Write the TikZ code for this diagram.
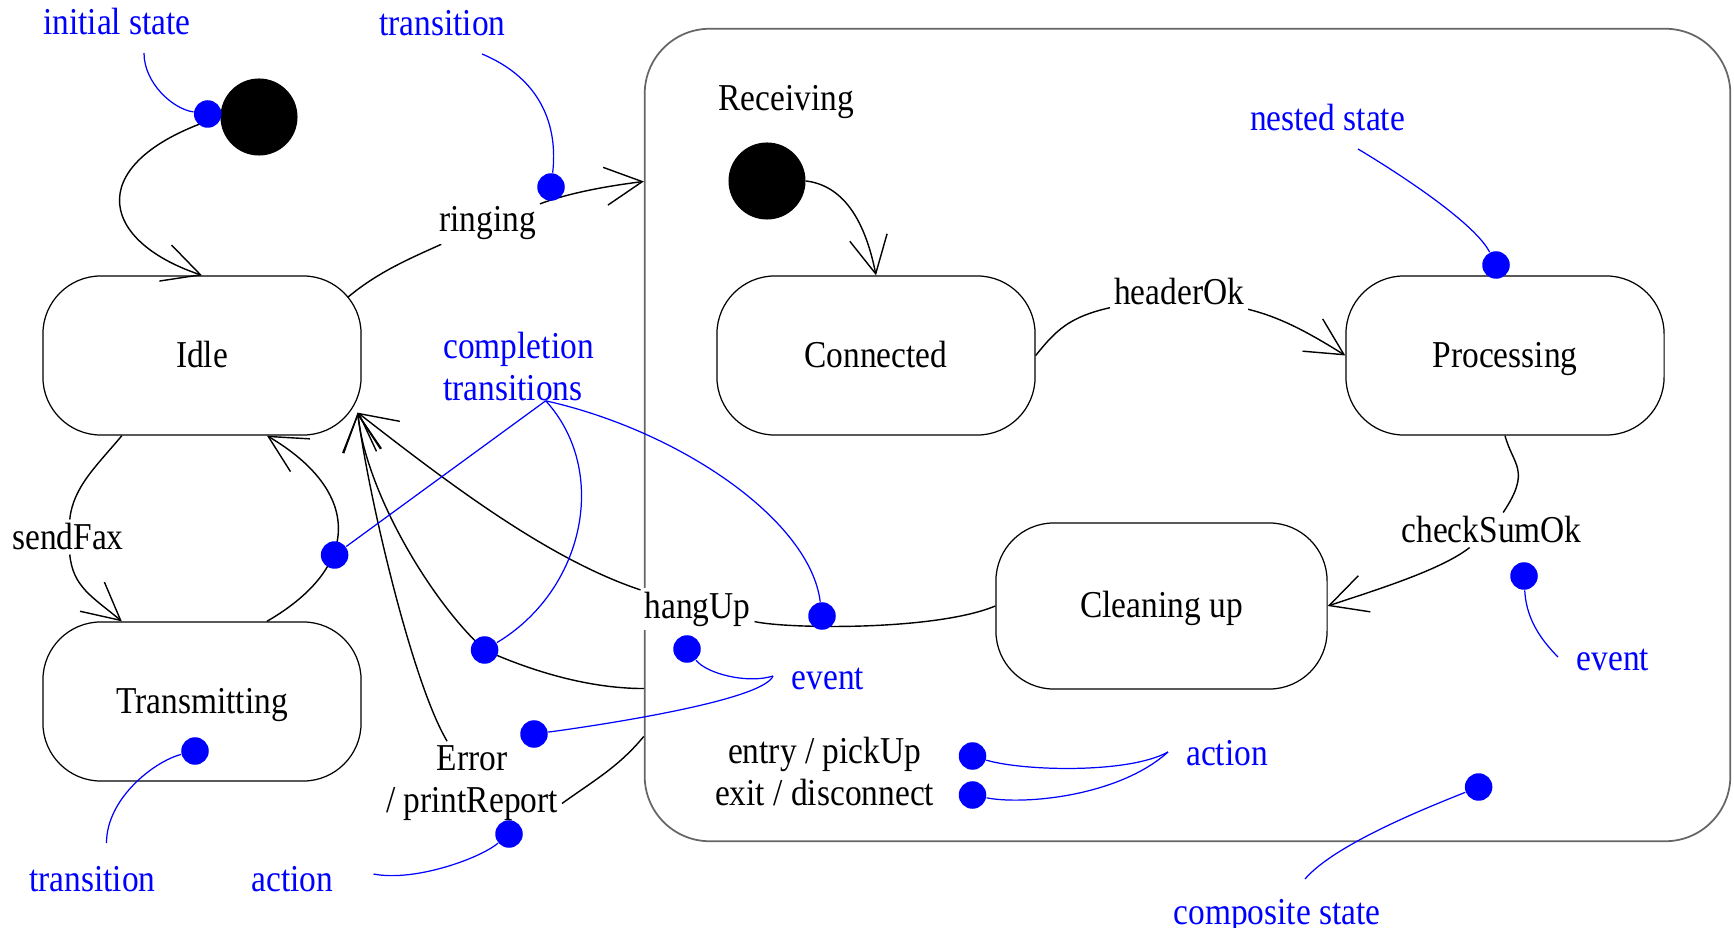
\documentclass[tikz,border=0pt]{standalone}
\usepackage{fontspec}
\setmainfont{Liberation Serif}[FakeStretch=0.88]
\usepackage{tikz}
\usetikzlibrary{positioning, arrows.meta, calc, backgrounds}

\begin{document}
\begin{tikzpicture}[
    x=0.01cm, y=-0.01cm,
    font=\fontsize{10.8}{11.9}\selectfont,
    line width=0.35pt,
    state/.style={rectangle, draw, rounded corners=0.58cm, minimum width=3.18cm, minimum height=1.59cm, text height=0.29cm, text depth=0.06cm},
    composite/.style={rectangle, draw=black!60, line width=0.5pt, rounded corners=0.65cm, minimum width=10.85cm, minimum height=8.12cm},
    initial/.style={circle, fill=black, inner sep=0pt, minimum size=0.77cm},
    dot/.style={circle, fill=blue, inner sep=0pt, minimum size=0.275cm},
    trlabel/.style={fill=white, inner sep=1pt},
    note/.style={text=blue, inner sep=0pt},
    arrow/.style={-{Straight Barb[length=0.37cm, width=0.38cm]}},
    pointer/.style={blue}
]
    \useasboundingbox (0,0) rectangle (1734,928);

    % States
    \node[composite] (rec) at (1187.5,435) {};
    \node[state] (idle) at (202,355.5) {Idle};
    \node[state] (trans) at (202,701.5) {Transmitting};
    \node[state] (conn) at (876,355.5) {Connected};
    \node[state] (proc) at (1505,355.5) {Processing};
    \node[state, minimum width=3.31cm, minimum height=1.66cm] (clean) at (1161.5,606) {Cleaning up};
    \node[initial] (ini1) at (259,117) {};
    \node[initial] (ini2) at (767,181) {};
    \node[anchor=base] (recname) at (786,111) {Receiving};
    \node[anchor=base] (entryact) at (824.6,763) {entry / pickUp};
    \node[anchor=base] (exitact) at (824.6,805) {exit / disconnect};

    % Transition labels
    \node[trlabel, anchor=base] (ring) at (487.5,232) {ringing};
    \node[trlabel, anchor=base] (fax) at (68,550) {sendFax};
    \node[trlabel, anchor=base] (head) at (1179,305) {headerOk};
    \node[trlabel, anchor=base] (check) at (1491.5,543) {checkSumOk};
    \node[trlabel, anchor=base] (hang) at (697.5,618) {hangUp};
    \node[trlabel, align=center, anchor=base] (err) at (472,812) {Error\\/ printReport};
    \coordinate (tip) at ($(idle.south east)+(-4,-23)$);

    % Markers
    \node[dot] (d1) at (207.7,114) {};
    \node[dot] (d2) at (551,187) {};
    \node[dot] (d3) at (1496,265) {};
    \node[dot] (d4) at (334.6,555) {};
    \node[dot] (d5) at (484.6,650) {};
    \node[dot] (d6) at (822,616) {};
    \node[dot] (d7) at (687,649) {};
    \node[dot] (d8) at (1524,576) {};
    \node[dot] (d9) at (972.5,756) {};
    \node[dot] (d10) at (972.5,795) {};
    \node[dot] (d11) at (1478.6,787) {};
    \node[dot] (d12) at (195,751) {};
    \node[dot] (d13) at (509,834) {};
    \node[dot] (d14) at (534,734) {};

    % Transitions
    \begin{scope}[on background layer]
    \draw[arrow] (ini1.west) .. controls +(-136,43) and +(-107,-36) .. (idle.north);
    \draw ($(idle.north east)+(-14,22)$) .. controls +(30,-25) and +(-80,36) .. (ring);
    \draw[arrow] (ring) .. controls +(80,-30) and +(-40,5) .. (rec.155);
    \draw (idle.-135) .. controls +(-25,30) and +(5,-50) .. (fax);
    \draw[arrow] (fax) .. controls +(5,50) and +(-30,-25) .. (trans.135);
    \draw[arrow] (trans.51) .. controls +(95,-55) and +(95,56) .. (idle.-51);
    \draw[arrow] (ini2.east) .. controls +(40,5) and +(-10,-50) .. (conn.north);
    \draw (conn.east) .. controls +(20,-25) and +(-110,25) .. (head);
    \draw[arrow] (head) .. controls +(100,25) and +(-40,-25) .. (proc.west);
    \draw (proc.south) .. controls +(8,30) and +(40,-60) .. (check);
    \draw[arrow] (check) .. controls +(-50,40) and +(45,-15) .. (clean.east);
    \draw (clean.west) .. controls +(-60,25) and +(90,20) .. (hang);
    \draw[arrow] (hang) .. controls +(-150,-50) and +(90,70) .. (tip);
    \draw[arrow] (rec.205) .. controls +(-60,0) and +(40,18) .. (d5.center)
        .. controls +(-55,-50) and +(8,78) .. (tip);
    \draw (rec.209) .. controls +(-25,30) and +(35,-25) .. (err.-13);
    \draw[arrow] (err) .. controls +(-60,-100) and +(10,80) .. (tip);
    \end{scope}

    % Notes
    \node[note, anchor=base] (initnote) at (117,35) {initial state};
    \node[note, anchor=base] (trnote) at (442.5,36) {transition};
    \node[note, anchor=base] (nestnote) at (1327.5,131) {nested state};
    \node[note, align=left, anchor=north west] (comp) at (442.7,332) {completion\\transitions};
    \node[note, anchor=base] (evnote) at (828,689) {event};
    \node[note, anchor=base] (ev2note) at (1613,670) {event};
    \node[note, anchor=base] (actnote) at (1227,765) {action};
    \node[note, anchor=base] (compnote) at (1277,924) {composite state};
    \node[note, anchor=base] (tr2note) at (92.5,891) {transition};
    \node[note, anchor=base] (act2note) at (292.5,891) {action};
    \coordinate (compfoot) at ($(comp.south west)+(103,-1)$);
    \coordinate (evfoot) at ($(evnote.base)+(-55,-13)$);
    \coordinate (actfoot) at ($(actnote.base)+(-59,-13)$);

    % Pointers
    \draw[pointer] ($(initnote.base)+(27,18)$) .. controls +(0,30) and +(-35,-5) .. (d1);
    \draw[pointer] ($(trnote.base)+(39.5,18)$) .. controls +(60,25) and +(7,-60) .. (d2);
    \draw[pointer] ($(nestnote.base)+(30.5,18)$) .. controls +(50,30) and +(-20,-40) .. (d3);
    \draw[pointer] (compfoot) -- (d4);
    \draw[pointer] (compfoot) .. controls +(64,70) and +(100,-60) .. (d5);
    \draw[pointer] (compfoot) .. controls +(134,30) and +(-12,-96) .. (d6);
    \draw[pointer] (evfoot) .. controls +(-25,8) and +(20,25) .. (d7);
    \draw[pointer] (evfoot) .. controls +(-10,25) and +(60,-8) .. (d14);
    \draw[pointer] ($(ev2note.base)+(-55,-13)$) .. controls +(-20,-20) and +(2,40) .. (d8);
    \draw[pointer] (actfoot) .. controls +(-40,22) and +(50,15) .. (d9);
    \draw[pointer] (actfoot) .. controls +(-50,45) and +(50,10) .. (d10);
    \draw[pointer] ($(compnote.base)+(28,-45)$) .. controls +(30,-35) and +(-50,20) .. (d11);
    \draw[pointer] ($(tr2note.base)+(14,-48)$) .. controls +(0,-45) and +(-40,10) .. (d12);
    \draw[pointer] ($(act2note.base)+(81,-17)$) .. controls +(40,8) and +(-30,25) .. (d13);
\end{tikzpicture}
\end{document}
